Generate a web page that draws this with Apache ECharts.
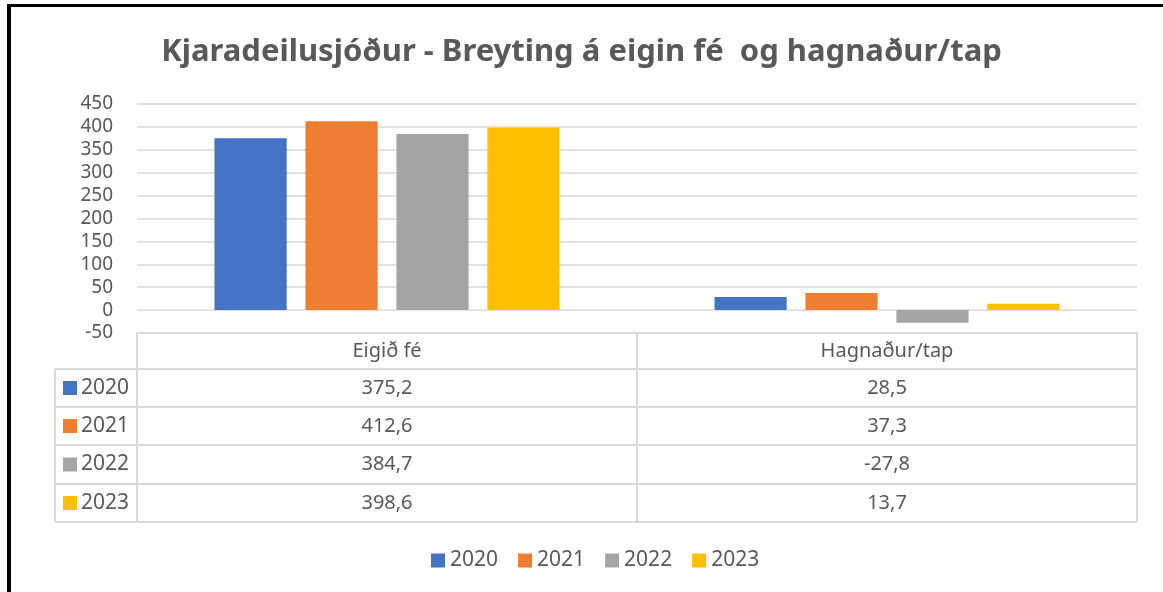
<!DOCTYPE html>
<html>
<head>
<meta charset="utf-8">
<script src="https://cdn.jsdelivr.net/npm/echarts@6/dist/echarts.min.js"></script>
<style>
  html, body { margin: 0; padding: 0; background: #fff; }
  #chart { width: 1163px; height: 592px; }
</style>
</head>
<body>
<div id="chart"></div>
<script>
var categories = ['Eigið fé', 'Hagnaður/tap']
var years = ['2020', '2021', '2022', '2023']
var v2020 = [375.2, 28.5]
var v2021 = [412.6, 37.3]
var v2022 = [384.7, -27.8]
var v2023 = [398.6, 13.7]
var colors = ['#4472C4', '#ED7D31', '#A5A5A5', '#FFC000']

var seriesData = [v2020, v2021, v2022, v2023]
var textColor = '#595959'
var lineColor = '#D9D9D9'
var font = 'Noto Sans'

// plot area in pixels
var gridLeft = 137, gridRight = 1137, gridTop = 104, gridBottom = 333
var rowLines = [369, 407, 445, 484, 522]
var labelColLeft = 55

function fmt(v) {
  return v.toFixed(1).replace('.', ',')
}

var myChart = echarts.init(document.getElementById('chart'))

var graphics = []
// frame edges (top + left)
graphics.push({ type: 'rect', shape: { x: 7, y: 4, width: 1156, height: 3 }, style: { fill: '#000' } })
graphics.push({ type: 'rect', shape: { x: 7, y: 4, width: 4, height: 588 }, style: { fill: '#000' } })

// table lines
var ls = { stroke: lineColor, lineWidth: 2 }
rowLines.forEach(function(y) {
  graphics.push({ type: 'line', shape: { x1: labelColLeft, y1: y, x2: gridRight, y2: y }, style: ls })
})
graphics.push({ type: 'line', shape: { x1: gridLeft, y1: gridBottom, x2: gridLeft, y2: rowLines[4] }, style: ls })
graphics.push({ type: 'line', shape: { x1: (gridLeft + gridRight) / 2, y1: gridBottom, x2: (gridLeft + gridRight) / 2, y2: rowLines[4] }, style: ls })
graphics.push({ type: 'line', shape: { x1: gridRight, y1: gridBottom, x2: gridRight, y2: rowLines[4] }, style: ls })
graphics.push({ type: 'line', shape: { x1: labelColLeft, y1: rowLines[0], x2: labelColLeft, y2: rowLines[4] }, style: ls })

// table rows
var colW = (gridRight - gridLeft) / categories.length
years.forEach(function(yr, i) {
  var yc = (rowLines[i] + rowLines[i + 1]) / 2
  graphics.push({ type: 'rect', shape: { x: 63, y: yc - 7, width: 14, height: 14 }, style: { fill: colors[i] } })
  graphics.push({ type: 'text', x: 81, y: yc, style: { text: yr, fill: textColor, font: '21px ' + font, verticalAlign: 'middle', align: 'left' } })
  seriesData[i].forEach(function(v, j) {
    graphics.push({ type: 'text', x: gridLeft + colW * (j + 0.5), y: yc, style: { text: fmt(v), fill: textColor, font: '20px ' + font, verticalAlign: 'middle', align: 'center' } })
  })
})

var option = {
  animation: false,
  color: colors,
  title: {
    text: 'Kjaradeilusjóður - Breyting á eigin fé  og hagnaður/tap',
    left: 'center',
    top: 32,
    textStyle: { color: textColor, fontSize: 31, fontWeight: 'bold', fontFamily: font }
  },
  legend: {
    data: years,
    bottom: 16,
    left: 426,
    itemWidth: 14,
    itemHeight: 14,
    itemGap: 20,
    icon: 'rect',
    textStyle: { color: textColor, fontSize: 21, fontFamily: font }
  },
  grid: {
    left: gridLeft,
    right: 1163 - gridRight,
    top: gridTop,
    bottom: 592 - gridBottom
  },
  xAxis: {
    type: 'category',
    data: categories,
    axisLine: { onZero: false, lineStyle: { color: lineColor, width: 2 } },
    axisTick: { show: false },
    axisLabel: { margin: 8, color: textColor, fontSize: 20, fontFamily: font }
  },
  yAxis: {
    type: 'value',
    min: -50,
    max: 450,
    interval: 50,
    axisLine: { show: false },
    axisTick: { show: false },
    axisLabel: { color: textColor, fontSize: 19, fontFamily: font, margin: 24 },
    splitLine: { lineStyle: { color: lineColor, width: 1.5 } }
  },
  series: years.map(function(yr, i) {
    return {
      name: yr,
      type: 'bar',
      data: seriesData[i],
      barGap: '26%',
      barCategoryGap: '31%',
      itemStyle: { color: colors[i] }
    }
  }),
  graphic: graphics
}

myChart.setOption(option)
</script>
</body>
</html>
